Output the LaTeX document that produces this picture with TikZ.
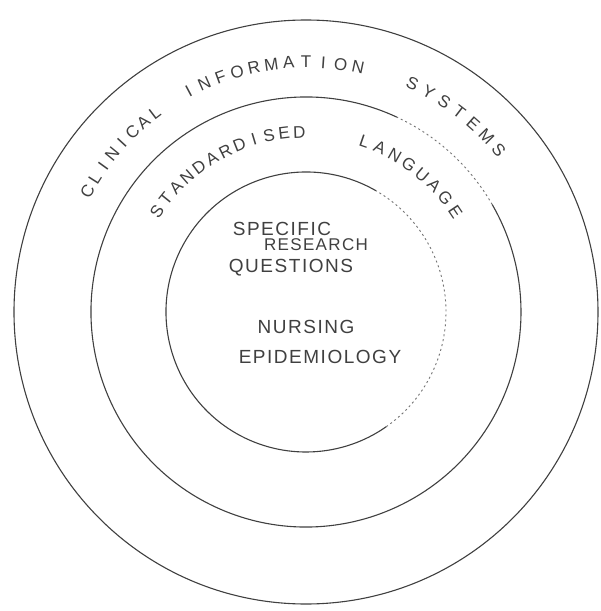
\documentclass[tikz,border=0pt]{standalone}
\usepackage{fontspec}
\newfontfamily\hand[LetterSpace=8]{Liberation Sans}
\newfontfamily\arcfont{Liberation Sans}
\definecolor{pencil}{gray}{0.25}
\definecolor{faint}{gray}{0.45}
\newcommand\arcword[4]{%
  \foreach \ch [count=\i] in {#4} {%
    \pgfmathsetmacro\ang{#2-(\i-1)*#3}%
    \node[arcl, rotate=\ang-90] at (\ang:#1) {\ch};
  }}
\begin{document}
\begin{tikzpicture}[x=1pt,y=1pt,
  ring/.style={draw=pencil, line width=1.1pt},
  faintring/.style={draw=faint, line width=0.9pt, dash pattern=on 2pt off 3pt},
  arcl/.style={inner sep=0pt, text depth=0pt, text=pencil, font=\arcfont\fontsize{17}{17}\selectfont},
  lbl/.style={inner sep=0pt, anchor=base, text=pencil, font=\hand\fontsize{19}{19}\selectfont},
  lblsmall/.style={lbl, font=\hand\fontsize{17}{17}\selectfont}]
\useasboundingbox (-306,-299) rectangle (295,312);
\fill[white] (-306,-299) rectangle (295,312);
% rings
\coordinate (c) at (0,0);
\draw[ring] (c) circle[radius=292];
\draw[ring] (65:215) arc[start angle=65, end angle=390, radius=215];
\draw[faintring] (30:215) arc[start angle=30, end angle=65, radius=215];
\draw[ring] (60:140) arc[start angle=60, end angle=305, radius=140];
\draw[faintring] (-55:140) arc[start angle=-55, end angle=60, radius=140];
% outer band text
\arcword{250}{151}{3.4}{C,L,I,N,I,C,A,L}
\arcword{250}{118}{4.0}{I,N,F,O,R,M,A,T,I,O,N}
\arcword{252}{65}{4.15}{S,Y,S,T,E,M,S}
% middle band text
\arcword{180}{146}{4.9}{S,T,A,N,D,A,R,D,I,S,E,D}
\arcword{180}{71}{5.3}{L,A,N,G,U,A,G,E}
% inner text
\node[lbl] (spec) at (-24,77) {SPECIFIC};
\node[lblsmall] (res) at (10,62) {RESEARCH};
\node[lbl] (ques) at (-15,40) {QUESTIONS};
\node[lbl] (nurs) at (0,-21) {NURSING};
\node[lbl] (epid) at (14,-51) {EPIDEMIOLOGY};
\end{tikzpicture}
\end{document}
